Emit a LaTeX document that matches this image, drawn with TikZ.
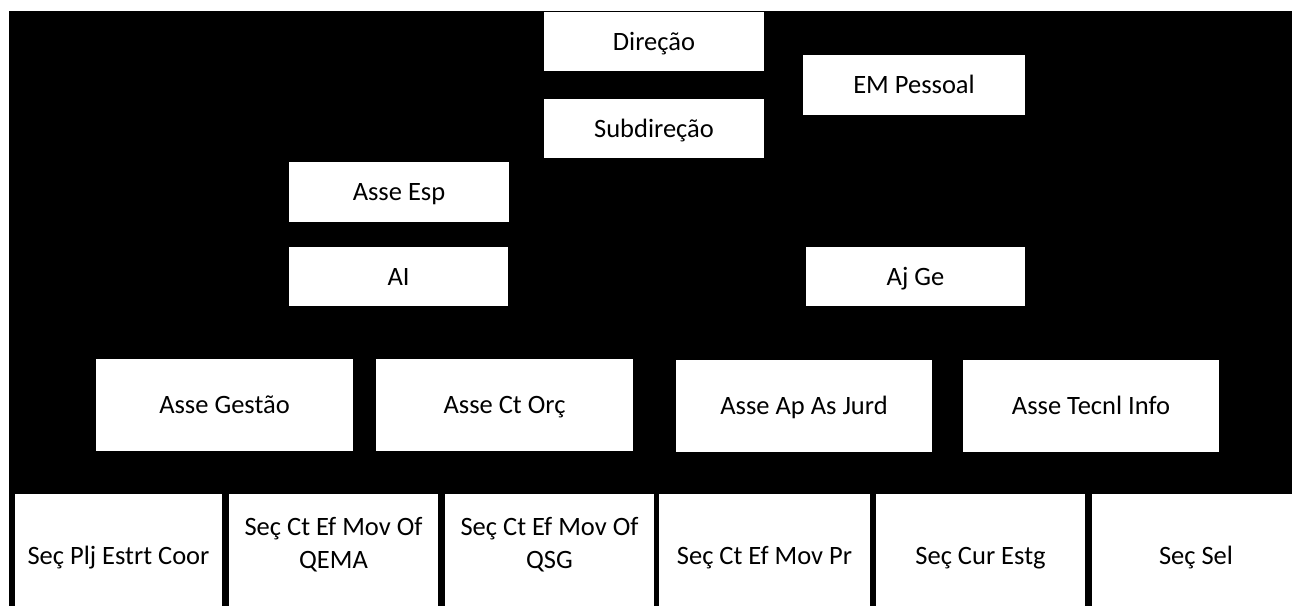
\documentclass[tikz,border=0pt]{standalone}
\usepackage{fontspec}
\setmainfont{Carlito}
\begin{document}
\begin{tikzpicture}[x=1pt,y=-1pt,
  orgbox/.style={fill=white,draw=none,inner sep=0pt,align=center,text height=17pt,text depth=0pt,font=\fontsize{26.5}{33}\selectfont},
  small/.style={orgbox,minimum width=220pt,minimum height=59pt},
  wide/.style={orgbox,minimum width=257pt,minimum height=92pt},
  secbox/.style={fill=white,draw=none,inner sep=0pt,minimum height=126pt},
  seclbl/.style={inner sep=0pt,align=center,text height=17pt,text depth=0pt,font=\fontsize{26.5}{33}\selectfont},
  seclbltwo/.style={inner sep=0pt,align=center,font=\fontsize{26.5}{33}\selectfont}]
\useasboundingbox (0,0) rectangle (1292,606);
\clip (0,0) rectangle (1292,606);
\fill[white] (0,0) rectangle (1292,606);
\fill[black] (9,11) rectangle (1292,606);
% top
\node[small] (dir) at (654,41.5) {Direção};
\node[small] (sub) at (654,128.5) {Subdireção};
\node[small,minimum width=222pt,minimum height=60pt] (em) at (914,85) {EM Pessoal};
\node[small,minimum height=60pt] (esp) at (399,192) {Asse Esp};
\node[small,minimum width=219pt] (ai) at (398.5,276.5) {AI};
\node[small,minimum width=219pt] (aj) at (915.5,276.5) {Aj Ge};
% middle
\node[wide] (ges) at (224.5,404.5) {Asse Gestão};
\node[wide] (orc) at (504.5,404.5) {Asse Ct Orç};
\node[wide,minimum width=256pt] (jur) at (804,405.5) {Asse Ap As Jurd};
\node[wide,minimum width=256pt] (tec) at (1091,405.5) {Asse Tecnl Info};
% bottom
\node[secbox,minimum width=207pt] (s1) at (118.5,557) {};
\node[secbox,minimum width=209pt] (s2) at (333.5,557) {};
\node[secbox,minimum width=209pt] (s3) at (549.5,557) {};
\node[secbox,minimum width=211pt] (s4) at (764.5,557) {};
\node[secbox,minimum width=209pt] (s5) at (980.5,557) {};
\node[secbox,minimum width=208pt] (s6) at (1196,557) {};
\node[seclbl] (t1) at ([yshift=1pt]s1.center) {Seç Plj Estrt Coor};
\node[seclbltwo] (t2) at ([yshift=12pt]s2.center) {Seç Ct Ef Mov Of\\QEMA};
\node[seclbltwo] (t3) at ([yshift=12pt]s3.center) {Seç Ct Ef Mov Of\\QSG};
\node[seclbl] (t4) at ([yshift=1pt]s4.center) {Seç Ct Ef Mov Pr};
\node[seclbl] (t5) at ([yshift=1pt]s5.center) {Seç Cur Estg};
\node[seclbl] (t6) at ([yshift=1pt]s6.center) {Seç Sel};
\end{tikzpicture}
\end{document}
